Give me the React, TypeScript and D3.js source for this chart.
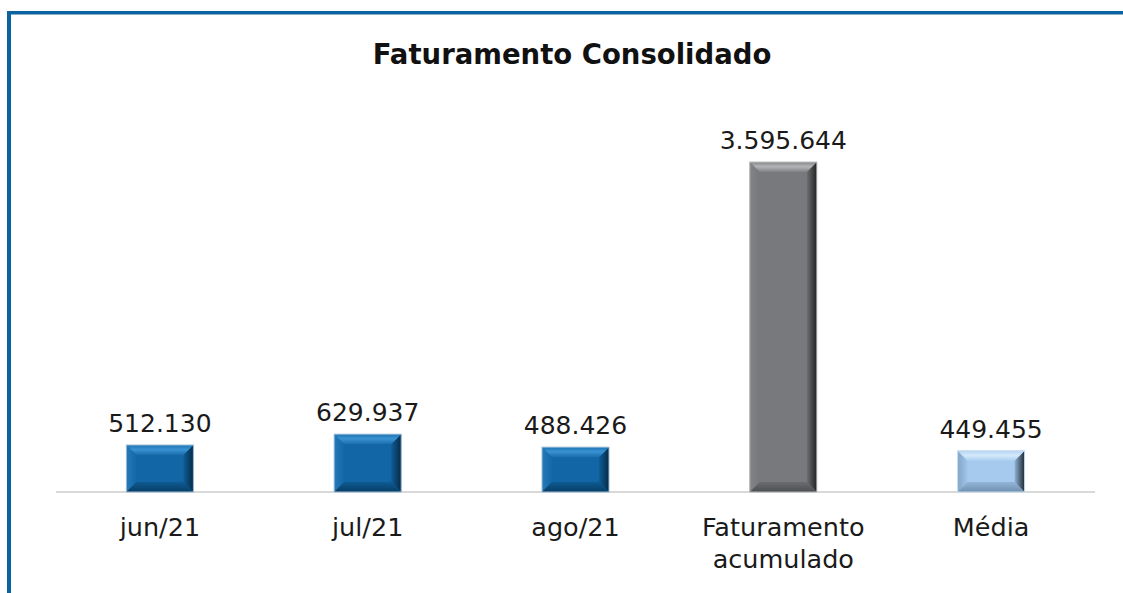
import * as d3 from 'd3';
import React, { useEffect, useRef } from 'react';

// values
const categories = ['jun/21', 'jul/21', 'ago/21', 'Faturamento acumulado', 'Média'];
const categoryLines = [['jun/21'], ['jul/21'], ['ago/21'], ['Faturamento', 'acumulado'], ['Média']];
const values = [512130, 629937, 488426, 3595644, 449455];
const barTheme = ['blue', 'blue', 'blue', 'gray', 'light'];

const themes: Record<string, { top: string[]; mid: string; left: string[]; right: string[]; bottom: string[]; edge: string }> = {
  blue: {
    top: ['#1c74b4', '#3a92d2', '#1a6dab'],
    mid: '#1266a6',
    left: ['#2479b8', '#1468a8'],
    right: ['#0f5d96', '#062a47'],
    bottom: ['#0d5a92', '#083e66'],
    edge: '#9dbbd6',
  },
  gray: {
    top: ['#86888b', '#b2b4b6', '#7e8083'],
    mid: '#77797c',
    left: ['#828487', '#76787b'],
    right: ['#6d6f72', '#232323'],
    bottom: ['#6a6c6f', '#4c4e50'],
    edge: '#b5b5b5',
  },
  light: {
    top: ['#b4d4f2', '#d4e8fb', '#acd0f0'],
    mid: '#a5caee',
    left: ['#7fa5c9', '#a2c6ea'],
    right: ['#8fb2d6', '#1f2a35'],
    bottom: ['#93b6d8', '#6f8fae'],
    edge: '#c8dcee',
  },
};

const W = 1123;
const H = 593;
const FONT = "'Century Gothic', 'DejaVu Sans', sans-serif";

export default function App() {
  const svgRef = useRef<SVGSVGElement>(null);

  useEffect(() => {
    const svg = d3.select(svgRef.current);
    svg.selectAll('*').remove();

    const baseY = 492;
    const x = d3.scaleBand<string>()
      .domain(categories)
      .range([56, 1095])
      .paddingInner(0.6776)
      .paddingOuter(0.3388);
    const y = d3.scaleLinear().domain([0, 4000000]).range([baseY, 125]);

    // gradients for the bevel faces
    const defs = svg.append('defs');
    Object.entries(themes).forEach(([name, t]) => {
      const top = defs.append('linearGradient').attr('id', `top-${name}`)
        .attr('x1', 0).attr('y1', 0).attr('x2', 0).attr('y2', 1);
      top.append('stop').attr('offset', '0%').attr('stop-color', t.top[0]);
      top.append('stop').attr('offset', '45%').attr('stop-color', t.top[1]);
      top.append('stop').attr('offset', '100%').attr('stop-color', t.top[2]);
      const left = defs.append('linearGradient').attr('id', `left-${name}`)
        .attr('x1', 0).attr('y1', 0).attr('x2', 1).attr('y2', 0);
      left.append('stop').attr('offset', '0%').attr('stop-color', t.left[0]);
      left.append('stop').attr('offset', '100%').attr('stop-color', t.left[1]);
      const right = defs.append('linearGradient').attr('id', `right-${name}`)
        .attr('x1', 0).attr('y1', 0).attr('x2', 1).attr('y2', 0);
      right.append('stop').attr('offset', '0%').attr('stop-color', t.right[0]);
      right.append('stop').attr('offset', '100%').attr('stop-color', t.right[1]);
      const bottom = defs.append('linearGradient').attr('id', `bottom-${name}`)
        .attr('x1', 0).attr('y1', 0).attr('x2', 0).attr('y2', 1);
      bottom.append('stop').attr('offset', '0%').attr('stop-color', t.bottom[0]);
      bottom.append('stop').attr('offset', '100%').attr('stop-color', t.bottom[1]);
    });

    // frame: top and left blue lines
    svg.append('rect').attr('x', 7).attr('y', 11).attr('width', W - 7).attr('height', 3.5).attr('fill', '#0d63a0');
    svg.append('rect').attr('x', 7).attr('y', 11).attr('width', 4).attr('height', H - 11).attr('fill', '#0d63a0');

    svg.append('text')
      .attr('x', 572).attr('y', 64)
      .attr('text-anchor', 'middle')
      .attr('font-family', FONT)
      .attr('font-weight', 'bold')
      .attr('font-size', 27.5)
      .attr('fill', '#111')
      .text('Faturamento Consolidado');

    // baseline
    svg.append('line')
      .attr('x1', 56).attr('x2', 1095)
      .attr('y1', baseY).attr('y2', baseY)
      .attr('stroke', '#d9d9d9').attr('stroke-width', 2);

    const bars = svg.selectAll('g.bar')
      .data(values)
      .join('g')
      .attr('class', 'bar');

    bars.each(function (v, i) {
      const g = d3.select(this);
      const name = barTheme[i];
      const t = themes[name];
      const x0 = x(categories[i])!;
      const w = x.bandwidth();
      const y0 = y(v);
      const h = baseY - y0;
      const b = Math.min(10, h / 3);
      const x1 = x0 + w;
      const y1 = y0 + h;
      const poly = (pts: number[][]) => pts.map((p) => p.join(',')).join(' ');

      g.append('rect').attr('x', x0).attr('y', y0).attr('width', w).attr('height', h).attr('fill', t.mid);
      g.append('polygon').attr('points', poly([[x0, y0], [x0 + b, y0 + b], [x0 + b, y1 - b], [x0, y1]]))
        .attr('fill', `url(#left-${name})`);
      g.append('polygon').attr('points', poly([[x1, y0], [x1 - b, y0 + b], [x1 - b, y1 - b], [x1, y1]]))
        .attr('fill', `url(#right-${name})`);
      g.append('polygon').attr('points', poly([[x0, y0], [x1, y0], [x1 - b, y0 + b], [x0 + b, y0 + b]]))
        .attr('fill', `url(#top-${name})`);
      g.append('polygon').attr('points', poly([[x0, y1], [x1, y1], [x1 - b, y1 - b], [x0 + b, y1 - b]]))
        .attr('fill', `url(#bottom-${name})`);
      g.append('rect').attr('x', x0).attr('y', y0).attr('width', w).attr('height', h)
        .attr('fill', 'none').attr('stroke', t.edge).attr('stroke-width', 1);

      g.append('text')
        .attr('x', x0 + w / 2).attr('y', y0 - 13)
        .attr('text-anchor', 'middle')
        .attr('font-family', FONT)
        .attr('font-size', 25)
        .attr('fill', '#1a1a1a')
        .text(d3.format(',')(v).replace(/,/g, '.'));

      const label = g.append('text')
        .attr('text-anchor', 'middle')
        .attr('font-family', FONT)
        .attr('font-size', 25.5)
        .attr('fill', '#1a1a1a');
      categoryLines[i].forEach((line, k) => {
        label.append('tspan').attr('x', x0 + w / 2).attr('y', 536 + k * 32).text(line);
      });
    });
  }, []);

  return (
    <svg
      ref={svgRef}
      width={W}
      height={H}
      style={{ position: 'absolute', left: 0, top: 0, background: '#fff' }}
    />
  );
}
